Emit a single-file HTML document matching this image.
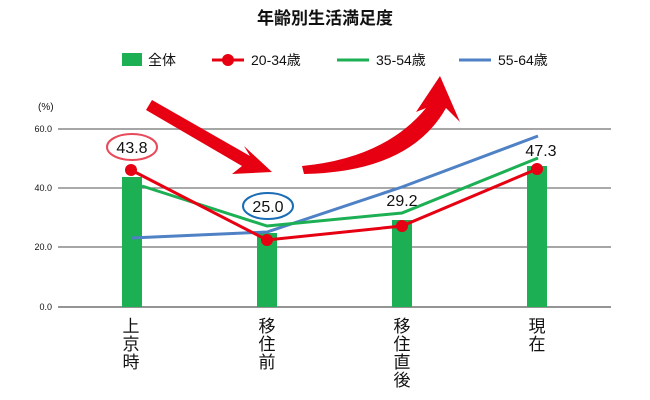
<!DOCTYPE html>
<html><head><meta charset="utf-8"><style>
body{margin:0;background:#fff;}
svg{display:block;font-family:"Liberation Sans","Noto Sans CJK JP",sans-serif;}
</style></head><body>
<svg width="650" height="400" viewBox="0 0 650 400">
<text x="325" y="24" font-size="17" font-weight="bold" text-anchor="middle" fill="#111">年齢別生活満足度</text>
<rect x="122" y="53" width="20" height="13" fill="#1daf54"/>
<text x="148" y="65" font-size="14" fill="#111">全体</text>
<line x1="212" y1="60" x2="244" y2="60" stroke="#e60012" stroke-width="3"/>
<circle cx="228" cy="60" r="6" fill="#e60012"/>
<text x="251" y="65" font-size="14" fill="#111">20-34歳</text>
<line x1="337" y1="60" x2="369" y2="60" stroke="#1daf54" stroke-width="3"/>
<text x="376" y="65" font-size="14" fill="#111">35-54歳</text>
<line x1="459" y1="60" x2="491" y2="60" stroke="#4f81c5" stroke-width="3"/>
<text x="498" y="65" font-size="14" fill="#111">55-64歳</text>
<text x="38" y="110" font-size="10" fill="#111">(%)</text>
<g stroke="#a6a6a6" stroke-width="2">
<line x1="58" y1="129" x2="611" y2="129"/>
<line x1="58" y1="188" x2="611" y2="188" stroke="#777" stroke-width="1.2"/>
<line x1="58" y1="247" x2="611" y2="247"/>
</g>
<line x1="58" y1="307" x2="611" y2="307" stroke="#555" stroke-width="1.2"/>
<g font-size="9" fill="#111" text-anchor="end">
<text x="52" y="132">60.0</text><text x="52" y="191">40.0</text>
<text x="52" y="250">20.0</text><text x="52" y="310">0.0</text>
</g>
<g fill="#1daf54">
<rect x="122" y="177" width="20" height="130"/>
<rect x="257" y="233" width="20" height="74"/>
<rect x="392" y="220" width="20" height="87"/>
<rect x="527" y="166" width="20" height="141"/>
</g>
<polyline points="131,238 267,232 402,187 538,136" fill="none" stroke="#4f81c5" stroke-width="3"/>
<polyline points="142,186 267,226 402,213 538,158" fill="none" stroke="#1daf54" stroke-width="3"/>
<polyline points="131,170 267,240 402,226 537,169" fill="none" stroke="#e60012" stroke-width="3"/>
<g fill="#e60012">
<circle cx="131" cy="170" r="6"/><circle cx="267" cy="240" r="6"/>
<circle cx="402" cy="226" r="6"/><circle cx="537" cy="169" r="6"/>
</g>
<ellipse cx="132" cy="147" rx="25" ry="13" fill="#fff" stroke="#e84a5a" stroke-width="2"/>
<text x="132" y="153" font-size="16" text-anchor="middle" fill="#111">43.8</text>
<ellipse cx="268" cy="206" rx="25" ry="13" fill="#fff" stroke="#1a6db5" stroke-width="2"/>
<text x="268" y="212" font-size="16" text-anchor="middle" fill="#111">25.0</text>
<text x="402" y="206" font-size="16" text-anchor="middle" fill="#111">29.2</text>
<text x="541" y="156" font-size="16" text-anchor="middle" fill="#111">47.3</text>
<!-- arrows -->
<path d="M152,100 L250,156 L244,146 L272,172 L232,174 L242,166 L146,110 Z" fill="#e60012"/>
<path d="M302,166 Q385,158 426,108 L416,112 L440,76 L460,122 L446,108 Q410,172 304,174 Z" fill="#e60012"/>
<g font-size="17" fill="#111" text-anchor="middle">
<text x="131" y="332">上</text><text x="131" y="350">京</text><text x="131" y="368">時</text>
<text x="267" y="332">移</text><text x="267" y="350">住</text><text x="267" y="368">前</text>
<text x="402" y="332">移</text><text x="402" y="350">住</text><text x="402" y="368">直</text><text x="402" y="386">後</text>
<text x="537" y="332">現</text><text x="537" y="350">在</text>
</g>
</svg>
</body></html>
